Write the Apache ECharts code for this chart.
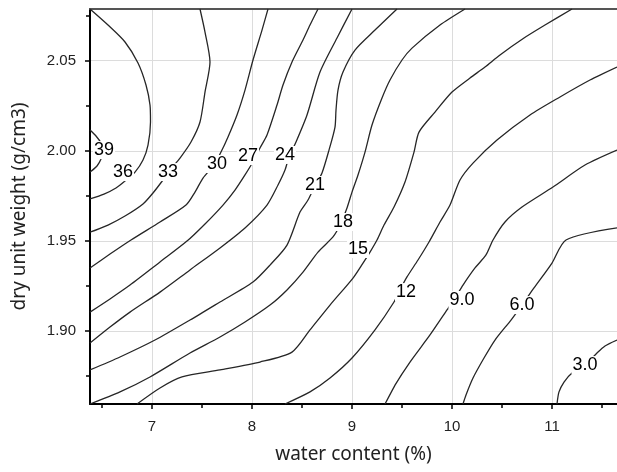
<!DOCTYPE html>
<html><head><meta charset="utf-8">
<script src="https://cdn.jsdelivr.net/npm/echarts@6/dist/echarts.min.js"></script>
<style>html,body{margin:0;padding:0;background:#fff}#c{width:617px;height:472px}</style>
</head><body><div id="c"></div>
<script>
// Axis ticks
const xTicks = [7, 8, 9, 10, 11];
const xMinorTicks = [6.5, 7.5, 8.5, 9.5, 10.5, 11.5];
const yTicks = [1.90, 1.95, 2.00, 2.05];
const yMinorTicks = [1.875, 1.925, 1.975, 2.025, 2.075];

// Contour lines: [water content (%), dry unit weight (g/cm3)]
const c39 = [[6.38,2.0115],[6.44,2.0082],[6.49,2.0043],[6.51,1.9999],[6.49,1.9954],[6.45,1.9916],[6.38,1.9882]];
const c36 = [[6.38,2.0787],[6.56,2.0698],[6.73,2.0604],[6.86,2.0487],[6.94,2.0365],[6.98,2.0254],[6.985,2.0160],[6.96,2.0032],[6.91,1.9949],[6.83,1.9882],[6.73,1.9832],[6.64,1.9794],[6.52,1.9760],[6.38,1.9733]];
const c33 = [[7.48,2.0787],[7.53,2.0659],[7.58,2.0493],[7.53,2.0326],[7.48,2.0160],[7.39,2.0049],[7.28,1.9960],[7.18,1.9893],[7.11,1.9838],[7.01,1.9766],[6.91,1.9705],[6.73,1.9638],[6.56,1.9588],[6.38,1.9549]];
const c30 = [[8.16,2.0787],[8.10,2.0670],[8.01,2.0504],[7.93,2.0337],[7.85,2.0199],[7.76,2.0077],[7.69,1.9993],[7.62,1.9921],[7.51,1.9849],[7.43,1.9771],[7.34,1.9699],[7.08,1.9605],[6.79,1.9505],[6.58,1.9427],[6.38,1.9350]];
const c27 = [[8.66,2.0787],[8.58,2.0698],[8.51,2.0615],[8.40,2.0493],[8.31,2.0365],[8.25,2.0254],[8.15,2.0088],[8.08,2.0016],[8.02,1.9949],[7.93,1.9866],[7.83,1.9782],[7.71,1.9699],[7.53,1.9594],[7.35,1.9499],[7.08,1.9383],[6.78,1.9255],[6.58,1.9178],[6.38,1.9105]];
const c24 = [[9.00,2.0787],[8.85,2.0626],[8.68,2.0437],[8.55,2.0199],[8.44,2.0049],[8.37,1.9966],[8.33,1.9893],[8.26,1.9810],[8.15,1.9699],[7.93,1.9572],[7.68,1.9461],[7.38,1.9339],[7.08,1.9216],[6.78,1.9105],[6.58,1.9022],[6.38,1.8933]];
const c21 = [[9.45,2.0787],[9.23,2.0670],[9.03,2.0559],[8.91,2.0437],[8.86,2.0337],[8.84,2.0226],[8.83,2.0132],[8.77,2.0004],[8.70,1.9877],[8.63,1.9805],[8.56,1.9727],[8.48,1.9660],[8.35,1.9477],[8.18,1.9366],[8.01,1.9272],[7.68,1.9161],[7.38,1.9061],[7.03,1.8950],[6.68,1.8856],[6.38,1.8784]];
const c18 = [[10.13,2.0787],[9.88,2.0698],[9.60,2.0570],[9.50,2.0504],[9.38,2.0393],[9.30,2.0293],[9.20,2.0143],[9.13,1.9993],[9.06,1.9866],[9.00,1.9771],[8.95,1.9683],[8.88,1.9588],[8.81,1.9522],[8.66,1.9438],[8.51,1.9327],[8.35,1.9228],[8.18,1.9144],[7.93,1.9050],[7.68,1.8967],[7.38,1.8878],[6.98,1.8745],[6.68,1.8662],[6.38,1.8595]];
const c15 = [[11.20,2.0787],[10.93,2.0698],[10.72,2.0626],[10.48,2.0532],[10.33,2.0465],[10.18,2.0404],[10.00,2.0326],[9.83,2.0215],[9.67,2.0104],[9.62,1.9993],[9.53,1.9827],[9.42,1.9688],[9.32,1.9588],[9.25,1.9505],[9.18,1.9438],[9.11,1.9377],[9.01,1.9294],[8.78,1.9144],[8.58,1.9006],[8.40,1.8883],[8.08,1.8828],[7.68,1.8784],[7.30,1.8745],[7.08,1.8684],[6.85,1.8595]];
const c12 = [[11.65,2.0465],[11.38,2.0393],[11.08,2.0299],[10.78,2.0199],[10.45,2.0060],[10.21,1.9932],[10.08,1.9838],[9.98,1.9699],[9.88,1.9605],[9.77,1.9494],[9.66,1.9394],[9.55,1.9300],[9.48,1.9228],[9.42,1.9161],[9.23,1.9006],[9.00,1.8850],[8.78,1.8739],[8.58,1.8662],[8.33,1.8595]];
const c9 = [[11.65,2.0004],[11.33,1.9921],[11.01,1.9799],[10.70,1.9688],[10.53,1.9605],[10.41,1.9505],[10.34,1.9422],[10.23,1.9350],[10.11,1.9255],[10.03,1.9183],[9.95,1.9117],[9.78,1.8978],[9.58,1.8828],[9.43,1.8700],[9.33,1.8595]];
const c6 = [[11.65,1.9572],[11.14,1.9505],[11.00,1.9377],[10.82,1.9239],[10.70,1.9144],[10.59,1.9061],[10.43,1.8950],[10.32,1.8850],[10.21,1.8739],[10.14,1.8645],[10.11,1.8595]];
const c3 = [[11.65,1.8950],[11.53,1.8917],[11.45,1.8878],[11.33,1.8811],[11.20,1.8767],[11.12,1.8717],[11.07,1.8662],[11.05,1.8595]];

// Contour labels: [x, y, text]
const contourLabels = [[6.52,2.0004,'39'],[6.71,1.9882,'36'],[7.16,1.9882,'33'],[7.65,1.9927,'30'],[7.96,1.9971,'27'],[8.33,1.9977,'24'],[8.63,1.9810,'21'],[8.91,1.9605,'18'],[9.06,1.9455,'15'],[9.54,1.9216,'12'],[10.10,1.9172,'9.0'],[10.70,1.9144,'6.0'],[11.33,1.8811,'3.0']];

const xMin = 6.38, xMax = 11.65, yMin = 1.8595, yMax = 2.0787;

const contours = [c39, c36, c33, c30, c27, c24, c21, c18, c15, c12, c9, c6, c3];
const series = contours.map(d => ({
  type: 'line', data: d, xAxisIndex: 0, yAxisIndex: 0,
  symbol: 'none', smooth: 0.25, silent: true, z: 2,
  lineStyle: { color: '#262626', width: 1.3 }
}));
series.push({
  type: 'scatter', data: contourLabels, xAxisIndex: 0, yAxisIndex: 0,
  symbolSize: 1, itemStyle: { color: '#fff', opacity: 1 }, z: 5, silent: true,
  label: { show: true, position: 'inside', formatter: p => p.value[2],
    fontFamily: 'Liberation Sans', fontSize: 18, color: '#000', opacity: 1,
    textBorderWidth: 0, backgroundColor: '#fff', padding: [0, 1] }
});

const titleFont = { fontFamily: 'Noto Sans', fontSize: 19, color: '#222' };
const chart = echarts.init(document.getElementById('c'));
chart.setOption({
  animation: false,
  backgroundColor: '#fff',
  grid: { left: 90, right: 0, top: 9, bottom: 68 },
  xAxis: [
    { type: 'value', min: xMin, max: xMax, position: 'bottom',
      axisLine: { show: true, onZero: false, lineStyle: { color: '#000', width: 2 } },
      axisTick: { show: true, inside: false, length: 5, customValues: xTicks, lineStyle: { color: '#000', width: 1.5 } },
      axisLabel: { customValues: xTicks, formatter: v => String(Math.round(v)), color: '#222', fontSize: 15, fontFamily: 'Liberation Sans', margin: 15 },
      splitLine: { show: true, lineStyle: { color: '#dcdcdc', width: 1 } },
      name: 'water content (%)', nameLocation: 'middle', nameGap: 41, nameTextStyle: titleFont },
    { type: 'value', min: xMin, max: xMax, position: 'bottom',
      axisLine: { show: false, onZero: false },
      axisTick: { show: true, inside: false, length: 4, customValues: xMinorTicks, lineStyle: { color: '#000', width: 1.5 } },
      axisLabel: { show: false }, splitLine: { show: false } },
    { type: 'value', min: xMin, max: xMax, position: 'top',
      axisLine: { show: true, onZero: false, lineStyle: { color: '#555', width: 2 } },
      axisTick: { show: false }, axisLabel: { show: false }, splitLine: { show: false } }
  ],
  yAxis: [
    { type: 'value', min: yMin, max: yMax, position: 'left',
      axisLine: { show: true, onZero: false, lineStyle: { color: '#000', width: 2 } },
      axisTick: { show: true, inside: false, length: 5, customValues: yTicks, lineStyle: { color: '#000', width: 1.5 } },
      axisLabel: { customValues: yTicks, formatter: v => v.toFixed(2), color: '#222', fontSize: 15, fontFamily: 'Liberation Sans', margin: 14 },
      splitLine: { show: true, lineStyle: { color: '#dcdcdc', width: 1 } },
      name: 'dry unit weight (g/cm3)', nameLocation: 'middle', nameGap: 61, nameTextStyle: titleFont },
    { type: 'value', min: yMin, max: yMax, position: 'left',
      axisLine: { show: false, onZero: false },
      axisTick: { show: true, inside: false, length: 4, customValues: yMinorTicks, lineStyle: { color: '#000', width: 1.5 } },
      axisLabel: { show: false }, splitLine: { show: false } }
  ],
  series: series
});
</script></body></html>
